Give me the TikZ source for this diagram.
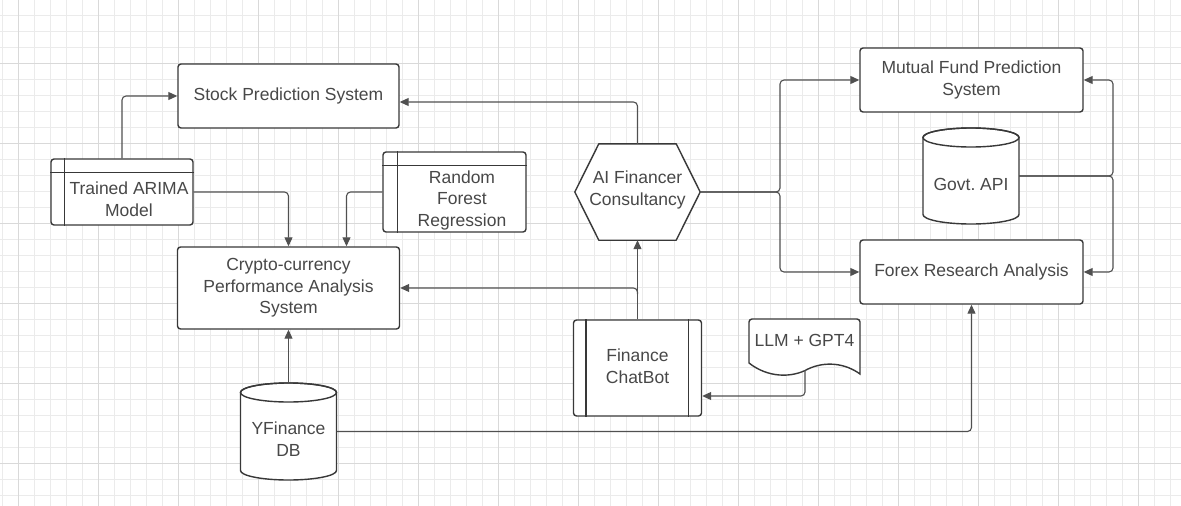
\documentclass[tikz,border=0pt]{standalone}
\usepackage{fontspec}
\setmainfont{Liberation Sans}
\usetikzlibrary{arrows.meta,calc}
\definecolor{gridminor}{HTML}{EBEBEB}
\definecolor{gridmajor}{HTML}{D9D9D9}
\definecolor{border}{HTML}{383838}
\definecolor{conn}{HTML}{505050}
\definecolor{txt}{HTML}{484848}
\frenchspacing
\begin{document}
\begin{tikzpicture}[x=1pt,y=-1pt,
  lbl/.style={inner sep=0pt, text=txt, font=\fontsize{17.5}{21.5}\selectfont, align=center},
  box/.style={lbl, draw=border, line width=1.4pt, rounded corners=3pt, fill=white},
  ghost/.style={inner sep=0pt},
  shapeline/.style={draw=border, line width=1.4pt},
  link/.style={draw=conn, line width=1.1pt, rounded corners=4pt, -{Triangle[length=9pt,width=8pt]}},
  gmin/.style={draw=gridminor, line width=0.8pt},
  gmaj/.style={draw=gridmajor, line width=0.8pt}
]
\useasboundingbox (0,0) rectangle (1181,506);
\fill[white] (0,0) rectangle (1181,506);
% grid
\foreach \x in {2,18,...,1180} \draw[gmin] (\x,0) -- (\x,506);
\foreach \y in {-1,15,...,506} \draw[gmin] (0,\y) -- (1181,\y);
\foreach \x in {18,98,...,1180} \draw[gmaj] (\x,0) -- (\x,506);
\foreach \y in {63,143,...,506} \draw[gmaj] (0,\y) -- (1181,\y);

% boxes
\node[box, minimum width=221, minimum height=64] (stock) at (288.5,96) {Stock Prediction System};
\node[box, minimum width=222, minimum height=82] (crypto) at (288.5,288) {Crypto-currency\\Performance Analysis\\System};
\node[box, minimum width=223, minimum height=64] (mf) at (971.5,80) {Mutual Fund Prediction\\System};
\node[box, minimum width=223, minimum height=64] (fx) at (971.5,272) {Forex Research Analysis};

% ARIMA table shape
\node[box, minimum width=142, minimum height=66] (arima) at (122,192) {};
\draw[shapeline] ($(arima.north west)+(0,14)$) -- ($(arima.north east)+(0,14)$);
\draw[shapeline] ($(arima.north west)+(14,0)$) -- ($(arima.south west)+(14,0)$);
\node[lbl] (arimat) at (129,199) {Trained ARIMA\\Model};

% Random forest table shape
\node[box, minimum width=143, minimum height=80] (rf) at (454.5,192) {};
\draw[shapeline] ($(rf.north west)+(0,14)$) -- ($(rf.north east)+(0,14)$);
\draw[shapeline] ($(rf.north west)+(15,0)$) -- ($(rf.south west)+(15,0)$);
\node[lbl] (rft) at (462,200) {Random\\Forest\\Regression};

% Chatbot
\node[box, minimum width=128, minimum height=96] (chat) at (637.5,368) {};
\draw[shapeline] ($(chat.north west)+(13,0)$) -- ($(chat.south west)+(13,0)$);
\draw[shapeline] ($(chat.north east)+(-14,0)$) -- ($(chat.south east)+(-14,0)$);
\node[lbl] (chatt) at (637.5,366) {Finance\\ChatBot};

% AI hexagon
\node[ghost, minimum width=125, minimum height=96] (ai) at (637.5,192) {};
\filldraw[shapeline, fill=white, line join=round] (ai.west) -- ($(ai.north west)+(24,0)$) -- ($(ai.north east)+(-24,0)$) -- (ai.east) -- ($(ai.south east)+(-24,0)$) -- ($(ai.south west)+(24,0)$) -- cycle;
\node[lbl] (ait) at (637.5,190) {AI Financer\\Consultancy};

% Govt API cylinder
\node[ghost, minimum width=96, minimum height=96] (gov) at (971,176) {};
\filldraw[shapeline, fill=white] (923,137.5) -- (923,214.5) arc[start angle=180, end angle=0, x radius=48, y radius=9.5] -- (1019,137.5) arc[start angle=0, end angle=-180, x radius=48, y radius=9.5] -- cycle;
\draw[shapeline] (971,137.5) ellipse [x radius=48, y radius=9.5];
\node[lbl] (govt) at (971,184) {Govt. API};

% YFinance cylinder
\node[ghost, minimum width=96, minimum height=97] (ydb) at (288.5,431.5) {};
\filldraw[shapeline, fill=white] (240.5,392.5) -- (240.5,470.5) arc[start angle=180, end angle=0, x radius=48, y radius=9.5] -- (336.5,392.5) arc[start angle=0, end angle=-180, x radius=48, y radius=9.5] -- cycle;
\draw[shapeline] (288.5,392.5) ellipse [x radius=48, y radius=9.5];
\node[lbl] (ydbt) at (288.5,439) {YFinance\\DB};

% LLM document
\node[ghost, minimum width=111, minimum height=55] (llm) at (804.5,346) {};
\filldraw[shapeline, fill=white] (749,363) [rounded corners=3pt] -- (749,319) -- (860,319) [sharp corners] -- (860,374) .. controls (845,363) and (825,361) .. (808,369) .. controls (792,378) and (768,378) .. (749,363) -- cycle;
\node[lbl] (llmt) at (804.5,340) {LLM + GPT4};
\coordinate (llmb) at (805,370);

% junctions
\coordinate (aj) at (780,192);
\coordinate (gj) at (1113,176);
\coordinate (cj) at (chat.north |- crypto.east);

% connectors
\draw[link] (arima.north) |- (stock.west);
\draw[link] (arima.east) -| (crypto.north);
\draw[link] (rf.west) -| ([xshift=58pt]crypto.north);
\draw[link] (ai.north) |- ([yshift=-6pt]stock.east);
\draw[link] (chat.north) -- (ai.south);
\draw[link] ([yshift=-6pt]cj) |- (crypto.east);
\draw[link] (ai.east) -- (aj) |- (mf.west);
\draw[link] (ai.east) -- (aj) |- (fx.west);
\draw[link] (gov.east) -- (gj) |- (mf.east);
\draw[link] (gov.east) -- (gj) |- (fx.east);
\draw[link] (llmb) |- ([yshift=-28pt]chat.east);
\draw[link] (ydb.north) -- (crypto.south);
\draw[link] (ydb.east) -| (fx.south);
\end{tikzpicture}
\end{document}
